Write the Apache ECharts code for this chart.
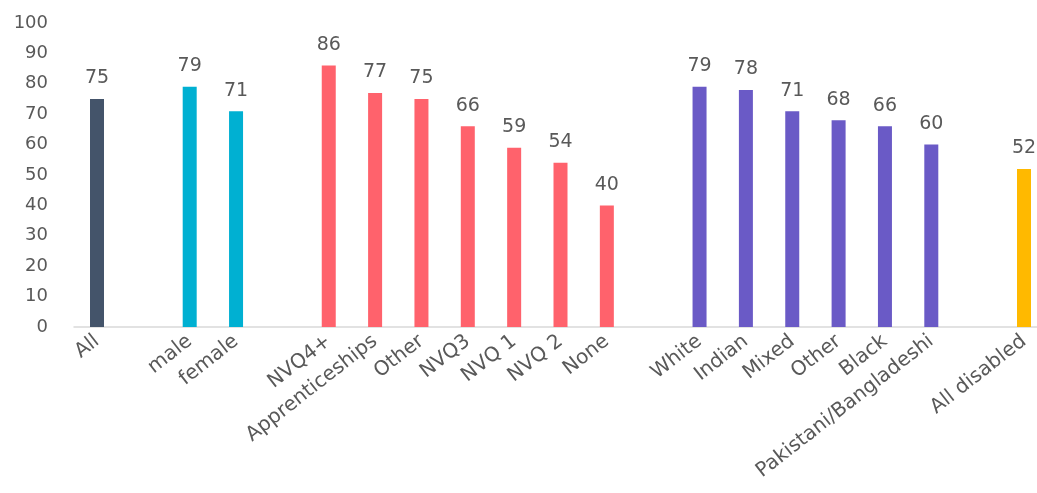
<!DOCTYPE html>
<html>
<head>
<meta charset="utf-8">
<script src="https://cdn.jsdelivr.net/npm/echarts@6/dist/echarts.min.js"></script>
<style>
  html, body { margin: 0; padding: 0; background: #fff; }
  #chart { width: 1037px; height: 493px; }
</style>
</head>
<body>
<div id="chart"></div>
<script>
// empty strings are the spacer slots between groups
var categories = ['All', '', 'male', 'female', '',
  'NVQ4+', 'Apprenticeships', 'Other', 'NVQ3', 'NVQ 1', 'NVQ 2', 'None', '',
  'White', 'Indian', 'Mixed', 'Other', 'Black', 'Pakistani/Bangladeshi', '',
  'All disabled'];
var values = [75, '-', 79, 71, '-',
  86, 77, 75, 66, 59, 54, 40, '-',
  79, 78, 71, 68, 66, 60, '-',
  52];
// which colour group each slot belongs to
var groups = [0, -1, 1, 1, -1,
  2, 2, 2, 2, 2, 2, 2, -1,
  3, 3, 3, 3, 3, 3, -1,
  4];
var yTicks = [0, 10, 20, 30, 40, 50, 60, 70, 80, 90, 100];

var palette = ['#44546A', '#00B0D2', '#FF626C', '#6A5AC6', '#FFB900'];
var grey = '#595959';
var font = 'DejaVu Sans';

var myChart = echarts.init(document.getElementById('chart'));
myChart.setOption({
  animation: false,
  textStyle: { fontFamily: font },
  grid: [
    // bars: first and last category centres sit on the grid edges
    { left: 97, right: 13, top: 23, bottom: 166, containLabel: false },
    // only used for the baseline, which runs wider than the bars
    { left: 74, right: 0, top: 23, bottom: 166, containLabel: false }
  ],
  xAxis: [{
    type: 'category',
    gridIndex: 0,
    data: categories,
    boundaryGap: false,
    axisLine: { show: false },
    axisTick: { show: false },
    splitLine: { show: false },
    axisLabel: {
      interval: 0,
      rotate: 38,
      margin: 12,
      color: grey,
      fontSize: 20
    }
  }, {
    type: 'value',
    gridIndex: 1,
    position: 'bottom',
    axisLine: { show: true, onZero: false, lineStyle: { color: '#D9D9D9', width: 1.5 } },
    axisTick: { show: false },
    axisLabel: { show: false },
    splitLine: { show: false }
  }],
  yAxis: [{
    type: 'value',
    gridIndex: 0,
    min: yTicks[0],
    max: yTicks[yTicks.length - 1],
    interval: 10,
    splitLine: { show: false },
    axisLine: { show: false },
    axisTick: { show: false },
    axisLabel: { color: grey, fontSize: 18, margin: 49 }
  }, {
    type: 'value',
    gridIndex: 1,
    show: false
  }],
  series: [{
    type: 'bar',
    xAxisIndex: 0,
    yAxisIndex: 0,
    data: values,
    barWidth: 14,
    itemStyle: {
      color: function (p) { return palette[groups[p.dataIndex]] || '#ccc'; }
    },
    label: {
      show: true,
      position: 'top',
      distance: 11,
      color: grey,
      fontSize: 19
    }
  }]
});
</script>
</body>
</html>
